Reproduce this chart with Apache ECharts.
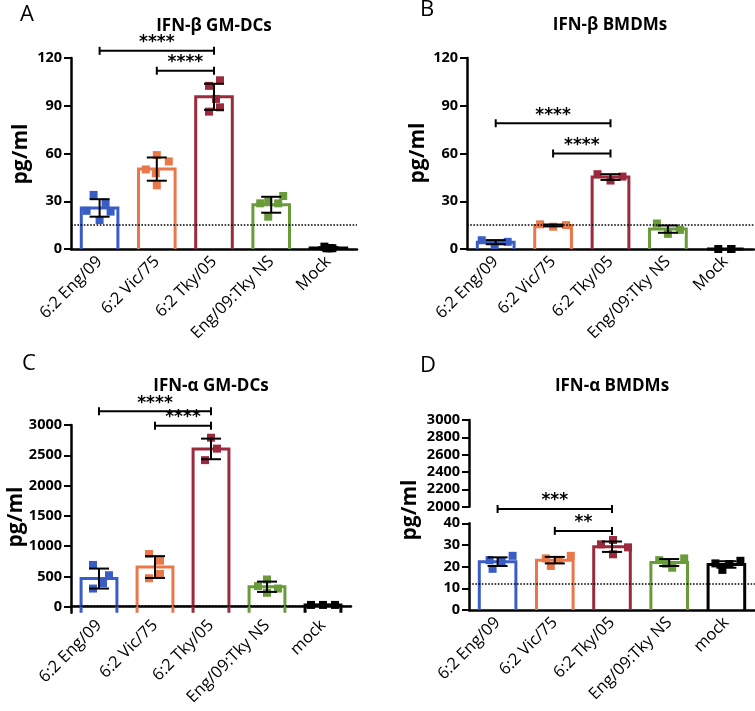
<!DOCTYPE html>
<html><head><meta charset="utf-8">
<script src="https://cdn.jsdelivr.net/npm/echarts@6/dist/echarts.min.js"></script>
<style>html,body{margin:0;padding:0;background:#fff}#c{width:755px;height:711px}</style>
</head><body><div id="c"></div>
<script>
// ---------- data ----------
const catsAB = ['6:2 Eng/09', '6:2 Vic/75', '6:2 Tky/05', 'Eng/09:Tky NS', 'Mock'];
const catsCD = ['6:2 Eng/09', '6:2 Vic/75', '6:2 Tky/05', 'Eng/09:Tky NS', 'mock'];
const groupColors = ['#3a5cc5', '#e8784a', '#9b2b3c', '#6a9b3a', '#000000'];

// A: IFN-beta GM-DCs
const aMeans = [25.8, 50.2, 95.6, 27.8, 0.7];
const aSD = [5.5, 7.3, 8.2, 5.0, 0.5];
const aPoints = [[34, 24, 28.7, 23.5, 18.2], [59, 55, 50, 47.6, 40], [106, 102.5, 94.3, 89, 86.3], [33.3, 29.8, 28.7, 28.7, 20.3], [1.5, 0.5, 0.5, 0.5, 0.5]];
const aThreshold = 15;
const aSig = [[0, 2, 124.5, '****'], [1, 2, 112, '****']];
const aTicks = [0, 30, 60, 90, 120];

// B: IFN-beta BMDMs
const bMeans = [4.3, 14.8, 45.2, 12.5, 0];
const bSD = [1.3, 0.6, 1.8, 2.3, 0];
const bPoints = [[5.5, 4.5, 2.5], [15.5, 14, 15], [47, 43, 45.5], [16, 12, 9.5], [0, 0, 0]];
const bThreshold = 15;
const bSig = [[0, 2, 79, '****'], [1, 2, 60, '****']];
const bTicks = [0, 30, 60, 90, 120];

// C: IFN-alpha GM-DCs
const cMeans = [465, 655, 2605, 330, 28];
const cSD = [165, 180, 170, 85, 5];
const cPoints = [[690, 520, 390, 300], [870, 760, 540, 470], [2790, 2610, 2420], [450, 340, 300, 230], [30, 30, 30]];
const cThreshold = 12;
const cSig = [[0, 2, 3229, '****'], [1, 2, 2987, '****']];
const cTicks = [0, 500, 1000, 1500, 2000, 2500, 3000];

// D: IFN-alpha BMDMs (broken axis)
const dMeans = [22.3, 23, 29.2, 21.9, 21];
const dSD = [2, 1.5, 2.4, 1.6, 1.5];
const dPoints = [[23, 25, 22.3, 19], [23.8, 25, 20.3, 23], [30.3, 32.3, 28.9, 25.7], [23, 23.8, 19.5, 21.3], [21.5, 22.7, 21.2, 18.5]];
const dThreshold = 12.3;
const dSig = [[0, 2, 46.6, '***'], [1, 2, 36.5, '**']];
const dTicksLow = [0, 10, 20, 30, 40];
const dTicksHigh = [2000, 2200, 2400, 2600, 2800, 3000];

// ---------- layout / style ----------
const jitterA = [[-6, -13, 6, 11, 0], [0, 12, -11, -1, 0], [6, -5, 2, 6, -5], [12, -3, -11, 7, -3], [-4, 0, 4, -2, 2]];
const jitterB = [[-14, 12, -1], [-13, 0, 13], [-13, 0, 12], [-11, 12, 0], [-7, 6, 6]];
const jitterC = [[-6, 10, 4, -6], [-6, 5, 5, -6], [0, 6, -6], [0, -9, 11, 0], [-12, 0, 12]];
const jitterD = [[-8, 15, 4, -5], [-9, 16, -4, 4], [-11, 1, 16, 1], [-10, 15, 3, -3], [-11, 14, 3, -4]];

const FONT = '"Open Sans", "DejaVu Sans", sans-serif';

const panels = [
  { grid: { left: 71, top: 58, width: 286, height: 191 }, yMin: 0, yMax: 120, ticks: aTicks, cats: catsAB,
    means: aMeans, sd: aSD, pts: aPoints, jit: jitterA, thr: aThreshold, sig: aSig },
  { grid: { left: 467, top: 58, width: 287, height: 191 }, yMin: 0, yMax: 120, ticks: bTicks, cats: catsAB,
    means: bMeans, sd: bSD, pts: bPoints, jit: jitterB, thr: bThreshold, sig: bSig },
  { grid: { left: 71, top: 425, width: 280, height: 187.8 }, yMin: -100, yMax: 3000, ticks: cTicks, cats: catsCD,
    means: cMeans, sd: cSD, pts: cPoints, jit: jitterC, thr: cThreshold, sig: cSig },
  { grid: { left: 469, top: 523.3, width: 286, height: 86.7 }, yMin: 0, yMax: 40, ticks: dTicksLow, cats: catsCD,
    means: dMeans, sd: dSD, pts: dPoints, jit: jitterD, thr: dThreshold, sig: dSig }
];
const upperD = { grid: { left: 469, top: 420, width: 286, height: 86.7 }, yMin: 2000, yMax: 3000, ticks: dTicksHigh };

const grids = [], xAxes = [], yAxes = [], series = [];

function yAxisFor(i, p) {
  return {
    type: 'value', gridIndex: i, min: p.yMin, max: p.yMax,
    axisLine: { show: true, lineStyle: { color: '#000', width: 2.5 } },
    axisTick: { show: true, length: 7, lineStyle: { color: '#000', width: 2 }, customValues: p.ticks },
    axisLabel: { color: '#000', fontFamily: FONT, fontWeight: 'bold', fontSize: 14.5, margin: 9, customValues: p.ticks,
      formatter: v => String(v) },
    splitLine: { show: false }
  };
}

panels.forEach((p, i) => {
  grids.push(p.grid);
  xAxes.push({
    type: 'category', gridIndex: i, data: p.cats,
    axisLine: { lineStyle: { color: '#000', width: 2.5 } },
    axisTick: { alignWithLabel: true, length: 6, lineStyle: { color: '#000', width: 2 } },
    axisLabel: { rotate: 45, interval: 0, color: '#000', fontFamily: FONT, fontSize: 16.5, margin: 10 }
  });
  yAxes.push(yAxisFor(i, p));

  // bars (open outlines, base at axis bottom)
  series.push({
    type: 'custom', xAxisIndex: i, yAxisIndex: i, z: 2, clip: false,
    data: p.means.map((m, k) => [k, m]),
    renderItem: (params, api) => {
      const k = api.value(0);
      const top = api.coord([k, api.value(1)]);
      const base = api.coord([k, p.yMin]);
      const w = api.size([1, 0])[0] * 0.64;
      const x0 = top[0] - w / 2, x1 = top[0] + w / 2;
      return {
        type: 'polyline',
        shape: { points: [[x0, base[1]], [x0, top[1]], [x1, top[1]], [x1, base[1]]] },
        style: { fill: null, stroke: groupColors[k], lineWidth: 3 }
      };
    }
  });

  // individual points
  const sdata = [];
  p.pts.forEach((arr, k) => arr.forEach((v, j) => {
    sdata.push({ value: [k, v], symbolOffset: [p.jit[k][j], 0], itemStyle: { color: groupColors[k], opacity: 1 } });
  }));
  series.push({
    type: 'scatter', xAxisIndex: i, yAxisIndex: i, z: 3, symbol: 'rect', symbolSize: 8,
    itemStyle: { opacity: 1 },
    data: sdata, silent: true,
    markLine: {
      silent: true, symbol: 'none', label: { show: false },
      lineStyle: { type: 'dotted', color: '#000', width: 1.6 },
      data: [{ yAxis: p.thr }]
    }
  });

  // error bars (mean +- SD)
  series.push({
    type: 'custom', xAxisIndex: i, yAxisIndex: i, z: 4, clip: false,
    data: p.means.map((m, k) => [k, m - p.sd[k], m + p.sd[k]]),
    renderItem: (params, api) => {
      const k = api.value(0);
      const lo = api.coord([k, api.value(1)]);
      const hi = api.coord([k, api.value(2)]);
      const h = 10, st = { stroke: '#000', lineWidth: 2 };
      return {
        type: 'group', children: [
          { type: 'line', shape: { x1: lo[0], y1: lo[1], x2: hi[0], y2: hi[1] }, style: st },
          { type: 'line', shape: { x1: hi[0] - h, y1: hi[1], x2: hi[0] + h, y2: hi[1] }, style: st },
          { type: 'line', shape: { x1: lo[0] - h, y1: lo[1], x2: lo[0] + h, y2: lo[1] }, style: st }
        ]
      };
    }
  });

  // significance brackets
  series.push({
    type: 'custom', xAxisIndex: i, yAxisIndex: i, z: 5, clip: false,
    data: p.sig.map(s => [s[0], s[1], s[2]]),
    renderItem: (params, api) => {
      const y = api.value(2);
      const a = api.coord([api.value(0), y]);
      const b = api.coord([api.value(1), y]);
      const st = { stroke: '#000', lineWidth: 2 };
      return {
        type: 'group', children: [
          { type: 'line', shape: { x1: a[0], y1: a[1], x2: b[0], y2: b[1] }, style: st },
          { type: 'line', shape: { x1: a[0], y1: a[1] - 4, x2: a[0], y2: a[1] + 4 }, style: st },
          { type: 'line', shape: { x1: b[0], y1: b[1] - 4, x2: b[0], y2: b[1] + 4 }, style: st },
          { type: 'text', x: (a[0] + b[0]) / 2, y: a[1] - 8,
            style: { text: p.sig[params.dataIndex][3], font: 'bold 17px "DejaVu Sans"', fill: '#000', align: 'center', verticalAlign: 'middle' } }
        ]
      };
    }
  });
});

// D upper axis segment
grids.push(upperD.grid);
xAxes.push({ type: 'category', gridIndex: 4, data: catsCD, show: false });
yAxes.push(yAxisFor(4, upperD));

const titleFont = 'bold 17px ' + FONT;
const letterFont = '22px ' + FONT;
const yNameFont = 'bold 21px ' + FONT;
const graphic = [
  { type: 'text', x: 27, y: 15, style: { text: 'A', font: letterFont, fill: '#000', align: 'center', verticalAlign: 'middle' } },
  { type: 'text', x: 427, y: 10, style: { text: 'B', font: letterFont, fill: '#000', align: 'center', verticalAlign: 'middle' } },
  { type: 'text', x: 29, y: 364, style: { text: 'C', font: letterFont, fill: '#000', align: 'center', verticalAlign: 'middle' } },
  { type: 'text', x: 428, y: 366, style: { text: 'D', font: letterFont, fill: '#000', align: 'center', verticalAlign: 'middle' } },
  { type: 'text', x: 214, y: 26, style: { text: 'IFN-β GM-DCs', font: titleFont, fill: '#000', align: 'center', verticalAlign: 'middle' } },
  { type: 'text', x: 610, y: 25, style: { text: 'IFN-β BMDMs', font: titleFont, fill: '#000', align: 'center', verticalAlign: 'middle' } },
  { type: 'text', x: 211, y: 386, style: { text: 'IFN-α GM-DCs', font: titleFont, fill: '#000', align: 'center', verticalAlign: 'middle' } },
  { type: 'text', x: 612, y: 386, style: { text: 'IFN-α BMDMs', font: titleFont, fill: '#000', align: 'center', verticalAlign: 'middle' } },
  { type: 'text', x: 21, y: 154, rotation: Math.PI / 2, style: { text: 'pg/ml', font: yNameFont, fill: '#000', align: 'center', verticalAlign: 'middle' } },
  { type: 'text', x: 418, y: 153, rotation: Math.PI / 2, style: { text: 'pg/ml', font: yNameFont, fill: '#000', align: 'center', verticalAlign: 'middle' } },
  { type: 'text', x: 16, y: 517, rotation: Math.PI / 2, style: { text: 'pg/ml', font: yNameFont, fill: '#000', align: 'center', verticalAlign: 'middle' } },
  { type: 'text', x: 410, y: 510, rotation: Math.PI / 2, style: { text: 'pg/ml', font: yNameFont, fill: '#000', align: 'center', verticalAlign: 'middle' } }
];

const chart = echarts.init(document.getElementById('c'), null, { renderer: 'canvas' });
chart.setOption({
  animation: false,
  backgroundColor: '#fff',
  grid: grids, xAxis: xAxes, yAxis: yAxes, series: series, graphic: graphic
});
</script>
</body></html>
